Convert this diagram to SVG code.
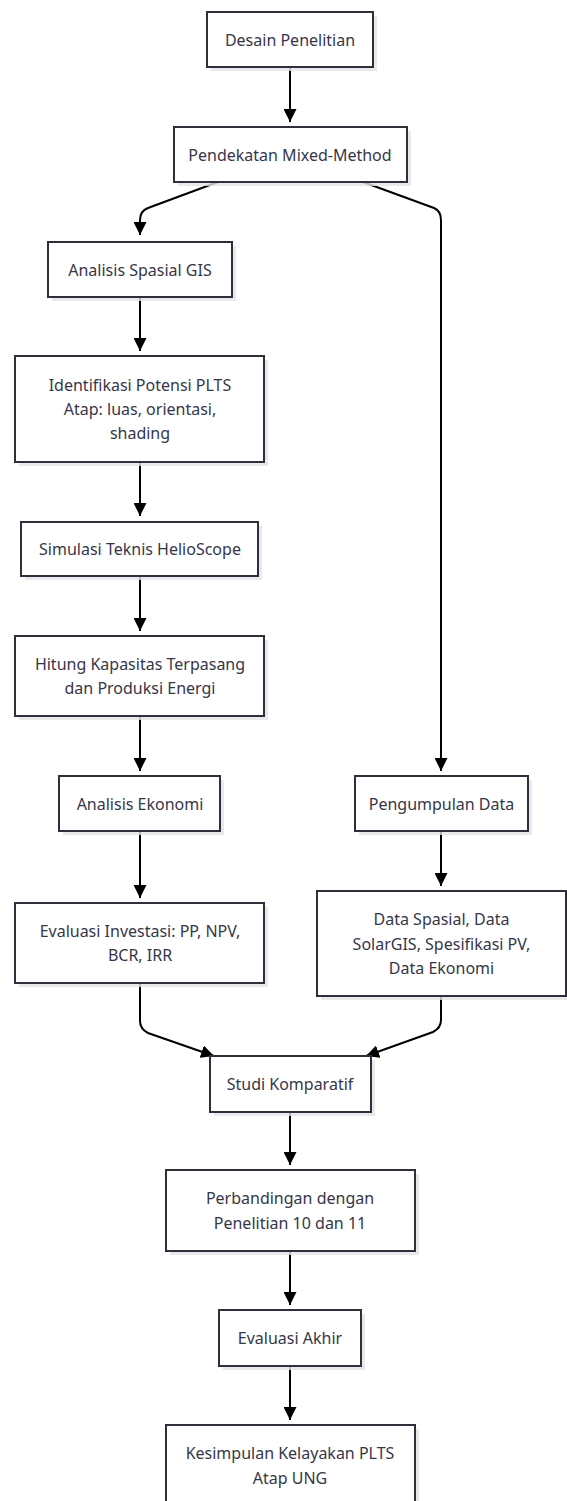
<svg xmlns="http://www.w3.org/2000/svg" width="567" height="1501" viewBox="0 0 567 1501">
<style>
.box{fill:#fff;stroke:#2e2e3e;stroke-width:2}
.sh{fill:#e4e4e4;opacity:0.8}
.t{font-family:"Noto Sans","Open Sans",sans-serif;font-size:16px;fill:#36364a;text-anchor:middle;dominant-baseline:central}
.e{fill:none;stroke:#000;stroke-width:2}
</style>
<defs>
<marker id="ah" markerUnits="userSpaceOnUse" markerWidth="13" markerHeight="13" viewBox="0 0 13 13" refX="13" refY="6.5" orient="auto">
<path d="M0,0 L13,6.5 L0,13 z" fill="#000"/>
</marker>
</defs>
<rect width="567" height="1501" fill="#fff"/>
<g id="connectors">
<path class="e" d="M290,67 L290,122" marker-end="url(#ah)"/>
<path class="e" d="M218,182 L148,208 Q140,211 140,220 L140,235" marker-end="url(#ah)"/>
<path class="e" d="M363,182 L434,208 Q441,211 441,220 L441,771" marker-end="url(#ah)"/>
<path class="e" d="M140,297 L140,351" marker-end="url(#ah)"/>
<path class="e" d="M140,462 L140,516" marker-end="url(#ah)"/>
<path class="e" d="M140,576 L140,631" marker-end="url(#ah)"/>
<path class="e" d="M140,716 L140,771" marker-end="url(#ah)"/>
<path class="e" d="M140,831 L140,898" marker-end="url(#ah)"/>
<path class="e" d="M441,831 L441,886" marker-end="url(#ah)"/>
<path class="e" d="M140,983 L140,1021 Q140,1029 148,1033 L214,1056" marker-end="url(#ah)"/>
<path class="e" d="M441,996 L441,1020 Q441,1028 433,1032 L366,1056" marker-end="url(#ah)"/>
<path class="e" d="M290,1112 L290,1165" marker-end="url(#ah)"/>
<path class="e" d="M290,1251 L290,1305" marker-end="url(#ah)"/>
<path class="e" d="M290,1366 L290,1420" marker-end="url(#ah)"/>
</g>
<g id="n1"><rect class="sh" x="211" y="16" width="166" height="55"/><rect class="box" x="207" y="12" width="166" height="55"/><text class="t" x="290" y="39.5">Desain Penelitian</text></g>
<g id="n2"><rect class="sh" x="178" y="131" width="233" height="55"/><rect class="box" x="174" y="127" width="233" height="55"/><text class="t" x="290" y="154.5">Pendekatan Mixed-Method</text></g>
<g id="n3"><rect class="sh" x="52" y="246" width="184" height="55"/><rect class="box" x="48" y="242" width="184" height="55"/><text class="t" x="140" y="269.5">Analisis Spasial GIS</text></g>
<g id="n4"><rect class="sh" x="19" y="360" width="249" height="106"/><rect class="box" x="15" y="356" width="249" height="106"/><text class="t" x="140" y="385">Identifikasi Potensi PLTS</text><text class="t" x="140" y="409">Atap: luas, orientasi,</text><text class="t" x="140" y="433">shading</text></g>
<g id="n5"><rect class="sh" x="25" y="526" width="237" height="54"/><rect class="box" x="21" y="522" width="237" height="54"/><text class="t" x="140" y="549">Simulasi Teknis HelioScope</text></g>
<g id="n6"><rect class="sh" x="19" y="640" width="249" height="80"/><rect class="box" x="15" y="636" width="249" height="80"/><text class="t" x="140" y="664">Hitung Kapasitas Terpasang</text><text class="t" x="140" y="688">dan Produksi Energi</text></g>
<g id="n7"><rect class="sh" x="63" y="780" width="161" height="55"/><rect class="box" x="59" y="776" width="161" height="55"/><text class="t" x="140" y="803.5">Analisis Ekonomi</text></g>
<g id="n8"><rect class="sh" x="19" y="907" width="249" height="80"/><rect class="box" x="15" y="903" width="249" height="80"/><text class="t" x="140" y="931">Evaluasi Investasi: PP, NPV,</text><text class="t" x="140" y="955">BCR, IRR</text></g>
<g id="n9"><rect class="sh" x="359" y="780" width="173" height="55"/><rect class="box" x="355" y="776" width="173" height="55"/><text class="t" x="441.5" y="803.5">Pengumpulan Data</text></g>
<g id="n10"><rect class="sh" x="321" y="895" width="249" height="105"/><rect class="box" x="317" y="891" width="249" height="105"/><text class="t" x="441.5" y="919">Data Spasial, Data</text><text class="t" x="441.5" y="943.5">SolarGIS, Spesifikasi PV,</text><text class="t" x="441.5" y="968">Data Ekonomi</text></g>
<g id="n11"><rect class="sh" x="214" y="1060" width="161" height="56"/><rect class="box" x="210" y="1056" width="161" height="56"/><text class="t" x="290" y="1084">Studi Komparatif</text></g>
<g id="n12"><rect class="sh" x="170" y="1174" width="249" height="81"/><rect class="box" x="166" y="1170" width="249" height="81"/><text class="t" x="290" y="1198">Perbandingan dengan</text><text class="t" x="290" y="1223">Penelitian 10 dan 11</text></g>
<g id="n13"><rect class="sh" x="223" y="1314" width="142" height="56"/><rect class="box" x="219" y="1310" width="142" height="56"/><text class="t" x="290" y="1338">Evaluasi Akhir</text></g>
<g id="n14"><rect class="sh" x="170" y="1429" width="249" height="80"/><rect class="box" x="166" y="1425" width="249" height="80"/><text class="t" x="290" y="1453">Kesimpulan Kelayakan PLTS</text><text class="t" x="290" y="1478">Atap UNG</text></g>
</svg>
